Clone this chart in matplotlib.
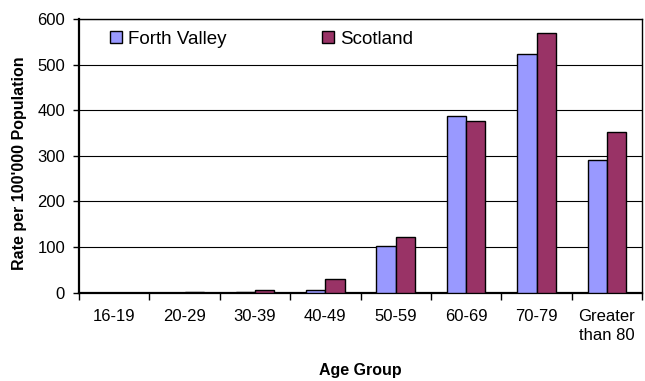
import matplotlib.pyplot as plt
import numpy as np

plt.rcParams['font.family'] = ['Liberation Sans', 'DejaVu Sans']

age_groups = ['16-19', '20-29', '30-39', '40-49', '50-59', '60-69', '70-79', 'Greater\nthan 80']
forth_valley = [0, 0, 1.5, 5, 102, 388, 523, 290]
scotland = [0, 2, 5, 30, 122, 376, 570, 353]

fig = plt.figure(figsize=(6.45, 3.81), dpi=100)
ax = fig.add_axes([0.1225, 0.232, 0.873, 0.718])

x = np.arange(len(age_groups))
w = 0.275
ax.bar(x - w/2, forth_valley, w, color='#9999FF', edgecolor='black', linewidth=1, label='Forth Valley', zorder=3)
ax.bar(x + w/2, scotland, w, color='#993366', edgecolor='black', linewidth=1, label='Scotland', zorder=3)

ax.set_xlim(-0.5, len(age_groups) - 0.5)
ax.set_ylim(0, 600)
ax.set_yticks(range(0, 601, 100))
ax.yaxis.grid(True, color='black', linewidth=0.8, zorder=0)

ax.set_xticks(x)
ax.set_xticklabels(age_groups, fontsize=12, linespacing=1.3)
ax.set_xticks(np.arange(-0.5, len(age_groups), 1), minor=True)
ax.tick_params(axis='x', which='major', length=0, pad=12)
ax.tick_params(axis='x', which='minor', length=5, width=1)
ax.tick_params(axis='y', length=4, width=1, labelsize=12, pad=6)

for side in ['left', 'bottom']:
    ax.spines[side].set_linewidth(1.6)
for side in ['top', 'right']:
    ax.spines[side].set_linewidth(1.0)

ax.set_ylabel("Rate per 100'000 Population", fontsize=11.5, fontweight='bold')
ax.yaxis.set_label_coords(-0.092, 0.473)
ax.set_xlabel('Age Group', fontsize=11.5, fontweight='bold')
ax.xaxis.set_label_coords(0.5, -0.258)
ax.xaxis.label.set_va('top')

ax.legend(loc='center left', bbox_to_anchor=(0.055, 0.927), ncol=2, frameon=False,
          fontsize=13.5, handlelength=0.64, handleheight=0.6, handletextpad=0.32,
          columnspacing=5.1, borderpad=0, borderaxespad=0)

fig.savefig('out.png', dpi=100)
